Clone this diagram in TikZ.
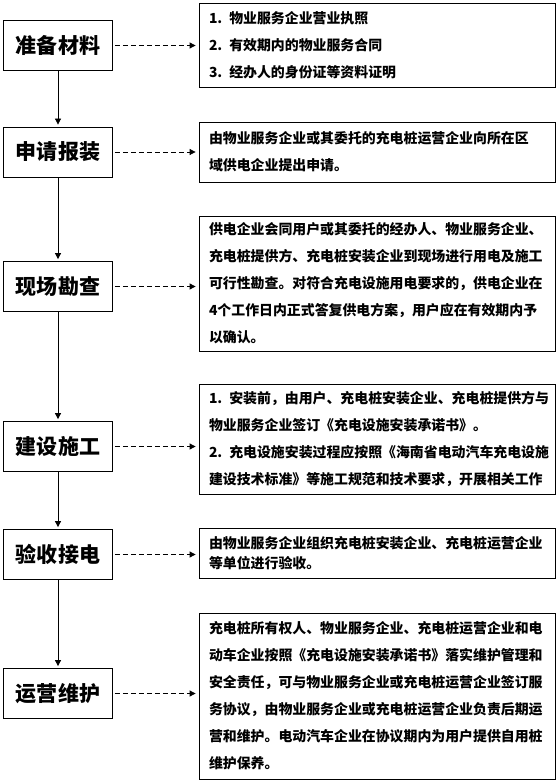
\documentclass[tikz,border=0pt]{standalone}
\usepackage{fontspec}
\setmainfont{Noto Sans CJK SC}
\usetikzlibrary{arrows.meta}
\begin{document}
\begin{tikzpicture}[x=1pt,y=-1pt,
  stepbox/.style={draw, line width=0.8pt, minimum width=109pt, minimum height=50pt, inner sep=0pt, font=\bfseries\fontsize{21}{21}\selectfont},
  notebox/.style={draw, line width=0.8pt, text width=336pt, inner xsep=10pt, inner ysep=0pt, align=left, font=\bfseries\fontsize{13.9}{27}\selectfont},
  flow/.style={-{Triangle[length=6pt,width=6pt]}, line width=0.8pt, shorten >=2pt},
  link/.style={-{Triangle[length=6pt,width=6pt]}, line width=0.8pt, dash pattern=on 5pt off 3pt, shorten <=2pt, shorten >=3pt}]
\useasboundingbox (0,0) rectangle (558,783);
% left steps
\node[stepbox] (s1) at (58,45.5) {准备材料};
\node[stepbox] (s2) at (58,152) {申请报装};
\node[stepbox] (s3) at (58,286.5) {现场勘查};
\node[stepbox] (s4) at (58,446.5) {建设施工};
\node[stepbox] (s5) at (58,554.5) {验收接电};
\node[stepbox] (s6) at (58,693.5) {运营维护};
% right notes
\node[notebox, minimum height=84pt] (r1) at (377,45) {1. 物业服务企业营业执照\\2. 有效期内的物业服务合同\\3. 经办人的身份证等资料证明};
\node[notebox, minimum height=60pt] (r2) at (377,152) {由物业服务企业或其委托的充电桩运营企业向所在区\\域供电企业提出申请。};
\node[notebox, minimum height=135pt] (r3) at (377,283.5) {供电企业会同用户或其委托的经办人、物业服务企业、\\充电桩提供方、充电桩安装企业到现场进行用电及施工\\可行性勘查。对符合充电设施用电要求的，供电企业在\\4个工作日内正式答复供电方案，用户应在有效期内予\\以确认。};
\node[notebox, minimum height=110pt] (r4) at (377,439) {1. 安装前，由用户、充电桩安装企业、充电桩提供方与\\物业服务企业签订《充电设施安装承诺书》。\\2. 充电设施安装过程应按照《海南省电动汽车充电设施\\建设技术标准》等施工规范和技术要求，开展相关工作};
\node[notebox, minimum height=50pt, font=\bfseries\fontsize{13.9}{20}\selectfont] (r5) at (377,553) {由物业服务企业组织充电桩安装企业、充电桩运营企业\\等单位进行验收。};
\node[notebox, minimum height=166pt] (r6) at (377,696) {充电桩所有权人、物业服务企业、充电桩运营企业和电\\动车企业按照《充电设施安装承诺书》落实维护管理和\\安全责任，可与物业服务企业或充电桩运营企业签订服\\务协议，由物业服务企业或充电桩运营企业负责后期运\\营和维护。电动汽车企业在协议期内为用户提供自用桩\\维护保养。};
% flow
\draw[flow] (s1) -- (s2);
\draw[flow] (s2) -- (s3);
\draw[flow] (s3) -- (s4);
\draw[flow] (s4) -- (s5);
\draw[flow] (s5) -- (s6);
% links
\foreach \i in {1,...,6}{
  \draw[link] (s\i.east) -- (s\i.east -| r\i.west);
}
\end{tikzpicture}
\end{document}
